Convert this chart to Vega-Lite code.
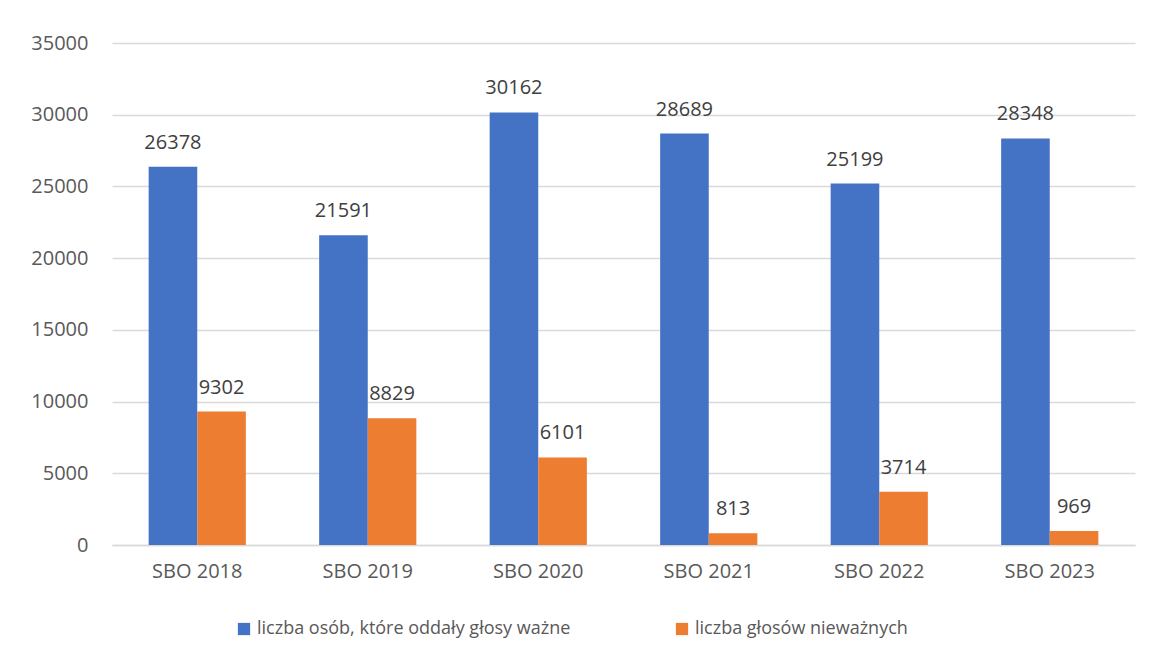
{
  "$schema": "https://vega.github.io/schema/vega-lite/v6.json",
  "autosize": "none",
  "width": 1023,
  "height": 502,
  "padding": {"left": 112, "top": 43, "right": 14, "bottom": 114},
  "background": "white",
  "config": {
    "font": "Open Sans",
    "view": {"stroke": null},
    "axis": {"labelFont": "Open Sans", "labelFontSize": 20, "labelColor": "#595959", "ticks": false, "title": null}
  },
  "data": {
    "values": [
      {"edition": "SBO 2018", "series": "liczba osób, które oddały głosy ważne", "value": 26378},
      {"edition": "SBO 2018", "series": "liczba głosów nieważnych", "value": 9302},
      {"edition": "SBO 2019", "series": "liczba osób, które oddały głosy ważne", "value": 21591},
      {"edition": "SBO 2019", "series": "liczba głosów nieważnych", "value": 8829},
      {"edition": "SBO 2020", "series": "liczba osób, które oddały głosy ważne", "value": 30162},
      {"edition": "SBO 2020", "series": "liczba głosów nieważnych", "value": 6101},
      {"edition": "SBO 2021", "series": "liczba osób, które oddały głosy ważne", "value": 28689},
      {"edition": "SBO 2021", "series": "liczba głosów nieważnych", "value": 813},
      {"edition": "SBO 2022", "series": "liczba osób, które oddały głosy ważne", "value": 25199},
      {"edition": "SBO 2022", "series": "liczba głosów nieważnych", "value": 3714},
      {"edition": "SBO 2023", "series": "liczba osób, które oddały głosy ważne", "value": 28348},
      {"edition": "SBO 2023", "series": "liczba głosów nieważnych", "value": 969}
    ]
  },
  "encoding": {
    "x": {"field": "edition", "type": "nominal", "sort": null,
      "scale": {"paddingInner": 0.43, "paddingOuter": 0.215},
      "axis": {"labelAngle": 0, "labelPadding": 16, "domain": true, "domainColor": "#d9d9d9", "domainWidth": 1.5, "grid": false}},
    "xOffset": {"field": "series", "type": "nominal", "sort": ["liczba osób, które oddały głosy ważne", "liczba głosów nieważnych"], "scale": {"paddingInner": 0}},
    "y": {"field": "value", "type": "quantitative",
      "scale": {"domain": [0, 35000], "nice": false},
      "axis": {"values": [0, 5000, 10000, 15000, 20000, 25000, 30000, 35000], "format": "d", "domain": false, "grid": true, "gridColor": "#d9d9d9", "gridWidth": 1.3, "labelPadding": 24}}
  },
  "layer": [
    {
      "mark": {"type": "bar"},
      "encoding": {
        "color": {"field": "series", "type": "nominal",
          "sort": ["liczba osób, które oddały głosy ważne", "liczba głosów nieważnych"],
          "scale": {"range": ["#4472C4", "#ED7D31"]},
          "legend": {"title": null, "orient": "none", "direction": "horizontal", "legendX": 123, "legendY": 577,
            "symbolType": "square", "symbolSize": 150, "symbolStrokeWidth": 0, "symbolOpacity": 1,
            "labelFontSize": 18, "labelColor": "#595959", "labelFont": "Open Sans", "labelLimit": 500,
            "columnPadding": 102, "labelOffset": 4}
        }
      }
    },
    {
      "mark": {"type": "text", "baseline": "alphabetic", "dy": -18, "fontSize": 20, "color": "#404040", "font": "Open Sans"},
      "encoding": {
        "text": {"field": "value", "type": "quantitative", "format": "d"}
      }
    }
  ]
}
